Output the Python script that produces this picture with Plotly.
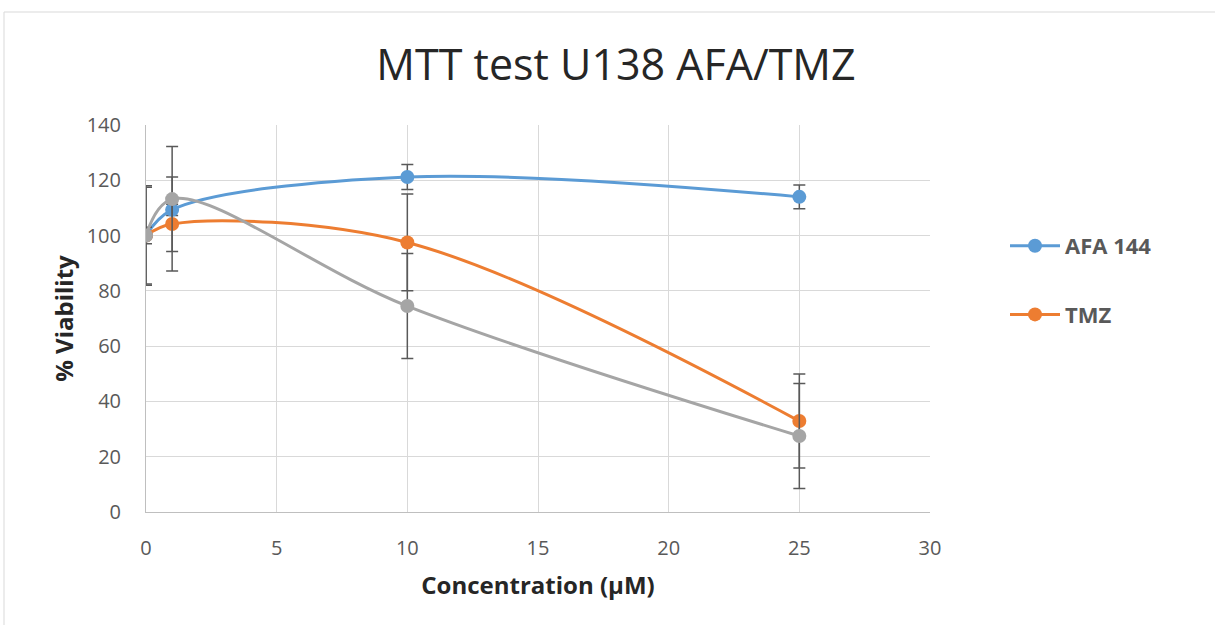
import plotly.graph_objects as go

# Concentrations (µM)
conc = [0, 1, 10, 25]

# % viability per treatment
afa_viability = [100, 109.3, 121.2, 114.0]
tmz_viability = [100, 104.2, 97.5, 32.9]
combo_viability = [100, 113.2, 74.5, 27.5]

# Error (± SD)
afa_err = [18, 2, 4.5, 4.3]
tmz_err = [3, 17, 17.5, 17]
combo_err = [17.5, 19, 19, 19]

series_names = ["AFA 144", "TMZ", "AFA/TMZ"]
series_colors = ["#5b9bd5", "#ed7d31", "#a5a5a5"]

FONT = "Open Sans"
GREY_TXT = "#595959"

fig = go.Figure()
for name, y, err, col, show in zip(
    series_names,
    [afa_viability, tmz_viability, combo_viability],
    [afa_err, tmz_err, combo_err],
    series_colors,
    [True, True, False],
):
    fig.add_trace(go.Scatter(
        x=conc, y=y, name="<b>" + name + "</b>", mode="lines+markers",
        line=dict(color=col, width=3, shape="spline", smoothing=1),
        marker=dict(color=col, size=14),
        error_y=dict(type="data", array=err, visible=True,
                     color=GREY_TXT, thickness=1.5, width=6),
        showlegend=show, legendgroup=name,
    ))

fig.update_layout(
    width=1215, height=625,
    margin=dict(l=146, r=285, t=125, b=113),
    paper_bgcolor="white", plot_bgcolor="white",
    title=dict(text="MTT test U138 AFA/TMZ", x=616 / 1215,
               xanchor="center", y=1 - 65 / 625, yanchor="middle",
               font=dict(family=FONT, size=43, color="#262626")),
    font=dict(family=FONT, color=GREY_TXT),
    xaxis=dict(range=[0, 30], tickvals=[0, 5, 10, 15, 20, 25, 30],
               showgrid=True, gridcolor="#d9d9d9", gridwidth=1,
               zeroline=False, showline=True, linecolor="#bfbfbf",
               tickfont=dict(size=20, color=GREY_TXT), ticks="",
               ticklabelstandoff=18,
               title=dict(text="<b>Concentration (µM)</b>", standoff=17,
                          font=dict(size=24, color="#262626"))),
    yaxis=dict(range=[0, 140], tickvals=[0, 20, 40, 60, 80, 100, 120, 140],
               showgrid=True, gridcolor="#d9d9d9", gridwidth=1,
               zeroline=False, showline=True, linecolor="#bfbfbf",
               tickfont=dict(size=20, color=GREY_TXT), ticks="",
               ticklabelstandoff=20,
               title=dict(text="<b>% Viability</b>", standoff=6,
                          font=dict(size=24, color="#262626"))),
    legend=dict(x=(1005 - 146) / 784, y=(512 - 225) / 387, xanchor="left",
                yanchor="top", font=dict(size=22, color=GREY_TXT, family=FONT),
                tracegroupgap=37, itemwidth=50, bgcolor="rgba(0,0,0,0)"),
    shapes=[dict(type="rect", xref="paper", yref="paper",
                 x0=(4 - 146) / 784, x1=(1230 - 146) / 784,
                 y0=(512 - 640) / 387, y1=(512 - 12) / 387,
                 line=dict(color="#d9d9d9", width=1), layer="below")],
)

fig.write_html("out.html")
